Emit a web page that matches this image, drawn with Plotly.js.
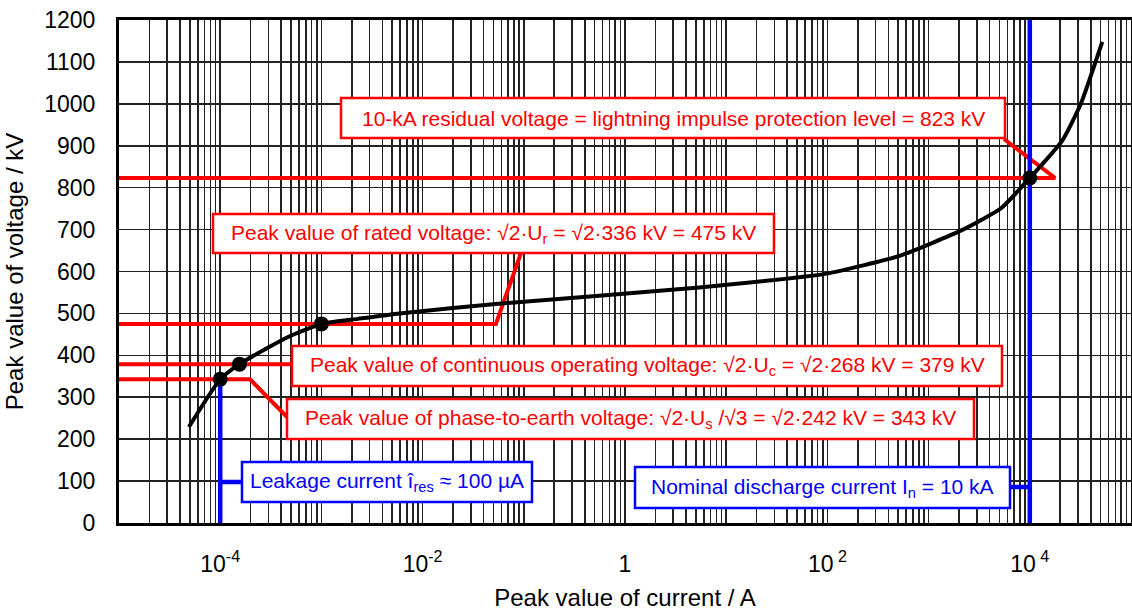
<!DOCTYPE html>
<html><head><meta charset="utf-8">
<script src="https://cdn.plot.ly/plotly-3.0.1.min.js"></script>
<style>html,body{margin:0;padding:0;background:#fff}#chart{width:1132px;height:612px}</style>
</head><body><div id="chart"></div>
<script>
// ---- data ----
const currentA  = [4.9e-5, 1e-4, 1.55e-4, 2.8e-4, 4.8e-4, 1e-3, 2.3e-3, 5.9e-3, 5.6e-2, 5.4, 98, 525, 2.1e3, 5.2e3, 1e4, 2.1e4, 3.2e4, 5.2e4];
const voltageKV = [229, 343, 379, 415, 445, 475, 487, 500, 523, 562, 595, 638, 698, 751, 823, 913, 1001, 1148];
const markCurrentA  = [1e-4, 1.55e-4, 1e-3, 1e4];
const markVoltageKV = [343, 379, 475, 823];
const levelKV = [823, 475, 379, 343];
const leakageCurrentA = 1e-4;
const nominalCurrentA = 1e4;
const yTickVals = [0,100,200,300,400,500,600,700,800,900,1000,1100,1200];
const labelTickVals = [1e-4, 1e-2, 1, 1e2, 1e4];
const labelTexts = ['10<sup>-4</sup>','10<sup>-2</sup>','1','10<sup> 2</sup>','10<sup> 4</sup>'];
const gridDecades = [-5,-4,-3,-2,-1,0,1,2,3,4];
const gridMantissas = [1,2,3,4,5,6,7,8,9];
const boxTexts = [
  '10-kA residual voltage = lightning impulse protection level = 823 kV',
  'Peak value of rated voltage: √2·U<sub>r</sub> = √2·336 kV = 475 kV',
  'Peak value of continuous operating voltage: √2·U<sub>c</sub> = √2·268 kV = 379 kV',
  'Peak value of phase-to-earth voltage: √2·U<sub>s</sub> /√3 = √2·242 kV = 343 kV',
  'Leakage current î<sub>res</sub> ≈ 100 µA',
  'Nominal discharge current I<sub>n</sub> = 10 kA'
];

// ---- minor grid positions (all 1..9 multiples not labelled) ----
const minorVals = [];
gridDecades.forEach(d => gridMantissas.forEach(m => {
  const v = m * Math.pow(10, d);
  if (!(m === 1 && labelTickVals.some(t => Math.abs(Math.log10(t) - d) < 1e-9))) minorVals.push(v);
}));
minorVals.push(1e5);

// ---- layout helpers ----
const L = 119, T = 20, W = 1012, H = 503;
const px = x => (x - L) / W;              // pixel -> paper
const py = y => (T + H - y) / H;
const pxI = x => Math.pow(10, -5 + 10 * (x - L) / W);   // pixel -> axis value
const pyV = y => 1200 * (T + H - y) / H;
const RED = '#ff0000', BLUE = '#0000ff';

const boxes = [ // pixel boxes [x0,y0,x1,y1,color]
  [341, 98, 1005, 138, RED],
  [213, 214, 774, 253, RED],
  [292, 346, 1002, 386, RED],
  [287, 399, 974, 439, RED],
  [242, 462, 532, 502, BLUE],
  [635, 467, 1010, 508, BLUE]
];

const traces = [];
const lead = (xs, ys, c, w) => traces.push({x:xs, y:ys, type:'scatter', mode:'lines', line:{color:c, width:w}, hoverinfo:'skip'});
// red leader lines
lead([1e-5, 1.78e4, pxI(1004)], [levelKV[0], levelKV[0], pyV(139)], RED, 4);
lead([1e-5, 5.3e-2, pxI(521)], [levelKV[1], levelKV[1], pyV(253)], RED, 4);
lead([1e-5, pxI(292)], [levelKV[2], levelKV[2]], RED, 4);
lead([1e-5, pxI(250), pxI(287)], [levelKV[3], levelKV[3], pyV(417)], RED, 4);
// blue leader lines
lead([leakageCurrentA, leakageCurrentA], [markVoltageKV[0], 0], BLUE, 4.5);
lead([leakageCurrentA, pxI(242)], [pyV(482), pyV(482)], BLUE, 4.5);
lead([nominalCurrentA, nominalCurrentA], [0, 1200], BLUE, 4.5);
lead([pxI(1010), nominalCurrentA], [pyV(487), pyV(487)], BLUE, 4.5);
// characteristic
traces.push({x: currentA, y: voltageKV, type:'scatter', mode:'lines', line:{color:'#000', width:4, shape:'spline', smoothing:0.5}, hoverinfo:'skip'});
traces.push({x: markCurrentA, y: markVoltageKV, type:'scatter', mode:'markers', marker:{color:'#000', size:15}, hoverinfo:'skip', cliponaxis:false});

const shapes = [], annotations = [];
boxes.forEach((b, i) => {
  shapes.push({type:'rect', xref:'paper', yref:'paper', x0:px(b[0]), x1:px(b[2]), y0:py(b[1]), y1:py(b[3]),
    layer:'above', fillcolor:'#ffffff', line:{color:b[4], width:2.5}});
  annotations.push({xref:'paper', yref:'paper', x:px((b[0]+b[2])/2), y:py((b[1]+b[3])/2),
    xanchor:'center', yanchor:'middle', showarrow:false, text:boxTexts[i],
    font:{family:'Liberation Sans, Arial, sans-serif', size:21, color:b[4]}});
});

const font = {family:'Liberation Sans, Arial, sans-serif', size:23, color:'#000'};
const layout = {
  width:1132, height:612,
  margin:{l:L, r:1132-L-W, t:T, b:612-T-H, pad:0},
  paper_bgcolor:'#fff', plot_bgcolor:'#fff',
  showlegend:false, font,
  xaxis:{type:'log', range:[-5,5], tickmode:'array', tickvals:labelTickVals, ticktext:labelTexts,
    showgrid:true, gridcolor:'#222', gridwidth:1.6, zeroline:false,
    minor:{tickmode:'array', tickvals:minorVals, showgrid:true, gridcolor:'#222', gridwidth:1.6, ticks:''},
    showline:true, linecolor:'#000', linewidth:3, mirror:true, ticks:'',
    ticklabelstandoff:18, tickfont:font,
    title:{text:'Peak value of current / A', font:{...font, size:24}, standoff:14}},
  yaxis:{range:[0,1200], tickmode:'array', tickvals:yTickVals,
    showgrid:true, gridcolor:'#222', gridwidth:1.6, zeroline:false,
    showline:true, linecolor:'#000', linewidth:3, mirror:true, ticks:'',
    ticklabelstandoff:16, tickfont:font,
    title:{text:'Peak value of voltage / kV', font:{...font, size:24}, standoff:14}},
  shapes, annotations
};
Plotly.newPlot('chart', traces, layout, {staticPlot:true, displayModeBar:false});
</script></body></html>
